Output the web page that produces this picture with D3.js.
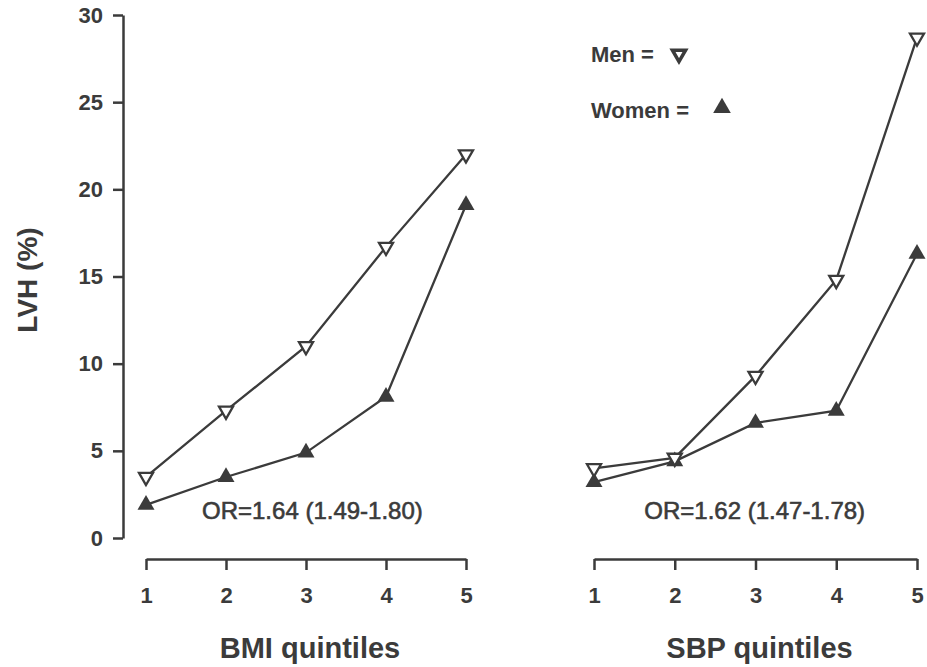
<!DOCTYPE html>
<html>
<head>
<meta charset="utf-8">
<script src="https://cdn.jsdelivr.net/npm/d3@7"></script>
<style>
  body { margin: 0; background: #fff; }
  svg text { font-family: "Liberation Sans", Arial, sans-serif; fill: #3b3b3b; }
</style>
</head>
<body>
<svg width="927" height="667"></svg>
<script>
// quintile categories and LVH (%) values
var quintiles = [1, 2, 3, 4, 5];
var yTicks = [0, 5, 10, 15, 20, 25, 30];

var bmiMen   = [3.5, 7.3, 11.0, 16.7, 22.0];
var bmiWomen = [1.9, 3.5, 4.9, 8.1, 19.1];
var sbpMen   = [4.0, 4.6, 9.3, 14.8, 28.7];
var sbpWomen = [3.2, 4.4, 6.6, 7.3, 16.3];

var bmiLabel = "OR=1.64 (1.49-1.80)";
var sbpLabel = "OR=1.62 (1.47-1.78)";

var ink = "#3b3b3b";
var svg = d3.select("svg");

// shared y scale
var y = d3.scaleLinear().domain([0, 30]).range([538, 15]);

var yAxis = d3.axisLeft(y).tickValues(yTicks).tickSize(10).tickSizeOuter(0).tickPadding(10);
var yg = svg.append("g")
    .attr("transform", "translate(123,0)")
    .call(yAxis);
yg.selectAll("text").style("font-size", "22px").style("font-weight", "bold").attr("fill", ink);
yg.selectAll("line, path").attr("stroke", ink).attr("stroke-width", 2.5);

svg.append("text")
    .attr("transform", "translate(37,280) rotate(-90)")
    .attr("text-anchor", "middle")
    .style("font-size", "28px")
    .style("font-weight", "bold")
    .text("LVH (%)");

var triDown = d3.symbol().type(d3.symbolTriangle).size(85);
var triUp = d3.symbol().type(d3.symbolTriangle).size(125);

function panel(x0, x1, men, women, orText, orX, title) {
    var x = d3.scaleLinear().domain([1, 5]).range([x0, x1]);

    var xAxis = d3.axisBottom(x).tickValues(quintiles).tickSize(11).tickSizeOuter(0).tickPadding(17)
        .tickFormat(d3.format("d"));
    var xg = svg.append("g")
        .attr("transform", "translate(0,559)")
        .call(xAxis);
    xg.selectAll("text").style("font-size", "22px").style("font-weight", "bold").attr("fill", ink);
    xg.selectAll("line, path").attr("stroke", ink).attr("stroke-width", 2.5);

    svg.append("text")
        .attr("x", (x0 + x1) / 2 + 4)
        .attr("y", 658)
        .attr("text-anchor", "middle")
        .style("font-size", "29px")
        .style("font-weight", "bold")
        .text(title);

    var line = d3.line()
        .x(function (d, i) { return x(quintiles[i]); })
        .y(function (d) { return y(d); });

    [women, men].forEach(function (s) {
        svg.append("path")
            .datum(s)
            .attr("d", line)
            .attr("fill", "none")
            .attr("stroke", ink)
            .attr("stroke-width", 2.3);
    });

    svg.selectAll(null)
        .data(women)
        .enter().append("path")
        .attr("d", triUp)
        .attr("transform", function (d, i) { return "translate(" + x(quintiles[i]) + "," + y(d) + ")"; })
        .attr("fill", ink);

    svg.selectAll(null)
        .data(men)
        .enter().append("path")
        .attr("d", triDown)
        .attr("transform", function (d, i) { return "translate(" + x(quintiles[i]) + "," + y(d) + ") rotate(180)"; })
        .attr("fill", "#fff")
        .attr("stroke", ink)
        .attr("stroke-width", 2.3);

    svg.append("text")
        .attr("x", x(orX))
        .attr("y", 519)
        .attr("text-anchor", "middle")
        .style("font-size", "24px")
        .style("stroke", ink)
        .style("stroke-width", 0.6)
        .text(orText);
}

panel(146, 466, bmiMen, bmiWomen, bmiLabel, 3.08, "BMI quintiles");
panel(594, 917, sbpMen, sbpWomen, sbpLabel, 2.99, "SBP quintiles");

// legend
var legend = svg.append("g");
legend.append("text").attr("x", 591).attr("y", 62)
    .style("font-size", "22px").style("font-weight", "bold").text("Men =");
legend.append("path").attr("d", d3.symbol().type(d3.symbolTriangle).size(75))
    .attr("transform", "translate(679,54) rotate(180)")
    .attr("fill", "#fff").attr("stroke", ink).attr("stroke-width", 3.5);
legend.append("text").attr("x", 591).attr("y", 118)
    .style("font-size", "22px").style("font-weight", "bold").text("Women =");
legend.append("path").attr("d", d3.symbol().type(d3.symbolTriangle).size(135))
    .attr("transform", "translate(722,108)")
    .attr("fill", ink);
</script>
</body>
</html>
